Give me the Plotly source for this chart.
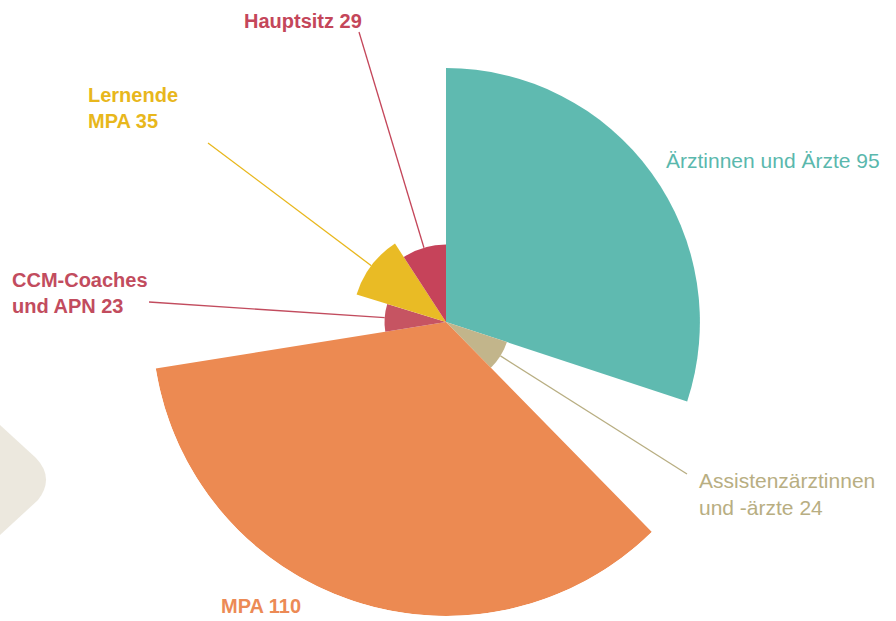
import numpy as np
import plotly.graph_objects as go

# Staff groups, listed clockwise starting at twelve o'clock
categories = ["Ärztinnen und Ärzte", "Assistenzärztinnen<br>und -ärzte", "MPA",
              "CCM-Coaches<br>und APN", "Lernende<br>MPA", "Hauptsitz"]
values = [95, 24, 110, 23, 35, 29]
wedge_colors = ["#5fbab0", "#c2b58b", "#ec8a52", "#c65462", "#e9bb25", "#c6435a"]
label_colors = ["#5ab8ad", "#b8ae82", "#ec8a55", "#c24c5e", "#e8b71c", "#c4465a"]
label_bold = [False, False, True, True, True, True]

W, H = 896, 621
CX, CY, RPX = 446, 322, 294          # pie centre and outer radius in pixels
RMAX = max(values)


def px(x, y):
    return x / W, 1 - y / H


vals = np.array(values, dtype=float)
widths = vals / vals.sum() * 360.0
thetas = np.cumsum(widths) - widths / 2

fig = go.Figure()
fig.add_trace(go.Barpolar(
    r=values, theta=thetas, width=widths,
    marker=dict(color=wedge_colors, line=dict(width=0)),
    hoverinfo="skip", showlegend=False,
))

# label text blocks: (left x, middle y) in pixels
label_pos = [(664, 160), (697, 494), (219, 606), (10, 293), (86, 108), (242, 21)]
# start points of the leader lines (None = label sits next to its wedge)
leader_start = [None, (687, 474), None, (149, 302), (208, 143), (359, 32)]

annotations = []
shapes = []
for i, name in enumerate(categories):
    txt = f"{name} {values[i]}"
    if label_bold[i]:
        txt = f"<b>{txt}</b>"
    lx, ly = px(*label_pos[i])
    annotations.append(dict(
        x=lx, y=ly, xref="paper", yref="paper", xanchor="left", yanchor="middle",
        text=txt, showarrow=False, align="left",
        font=dict(family="Liberation Sans, Arial, sans-serif",
                  size=20 if label_bold[i] else 21, color=label_colors[i]),
    ))
    if leader_start[i] is not None:
        ang = np.deg2rad(thetas[i])
        rr = values[i] / RMAX * RPX
        tx, ty = CX + rr * np.sin(ang), CY - rr * np.cos(ang)
        x0, y0 = px(*leader_start[i])
        x1, y1 = px(tx, ty)
        shapes.append(dict(type="line", xref="paper", yref="paper",
                           x0=x0, y0=y0, x1=x1, y1=y1,
                           line=dict(color=label_colors[i], width=1.3), layer="below"))

# soft beige decoration at the left edge
blob = [(0, 425), (36, 458), (55, 478), (38, 500), (0, 535)]
bp = [px(*p) for p in blob]
path = (f"M {bp[0][0]},{bp[0][1]} L {bp[1][0]},{bp[1][1]} "
        f"Q {bp[2][0]},{bp[2][1]} {bp[3][0]},{bp[3][1]} L {bp[4][0]},{bp[4][1]} Z")
shapes.append(dict(type="path", xref="paper", yref="paper", path=path,
                   fillcolor="#ece8de", line=dict(width=0), layer="below"))

x0d, y1d = px(CX - RPX, CY - RPX)
x1d, y0d = px(CX + RPX, CY + RPX)

fig.update_layout(
    width=W, height=H, margin=dict(l=0, r=0, t=0, b=0),
    paper_bgcolor="white", plot_bgcolor="white",
    polar=dict(
        domain=dict(x=[x0d, x1d], y=[y0d, y1d]),
        bgcolor="rgba(0,0,0,0)",
        radialaxis=dict(range=[0, RMAX], visible=False, showgrid=False),
        angularaxis=dict(rotation=90, direction="clockwise", visible=False, showgrid=False),
        bargap=0,
    ),
    annotations=annotations, shapes=shapes,
)

fig.write_html("out.html")
